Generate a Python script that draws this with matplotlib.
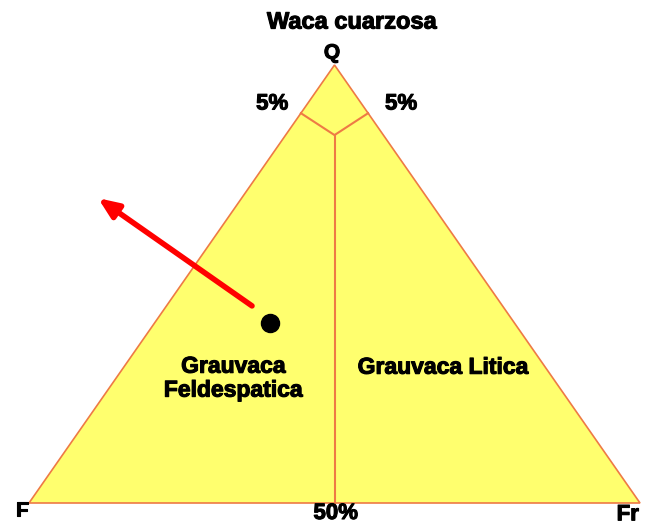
import matplotlib.pyplot as plt
import matplotlib.patheffects as pe
from matplotlib.patches import Polygon

plt.rcParams['font.family'] = ['Liberation Sans', 'DejaVu Sans']

# ternary data: (Q, F, Fr) fractions
vertices = {'Q': (1.0, 0.0, 0.0), 'F': (0.0, 1.0, 0.0), 'Fr': (0.0, 0.0, 1.0)}
q_limit = 0.89            # boundary of the quartz-wacke field (drawn as "5%")
node = (0.84, 0.08, 0.08)  # where the field boundaries meet
split_fr = 0.5            # F / Fr split at the base
sample = (0.41, 0.40, 0.19)
arrow_start = (0.45, 0.41, 0.14)
arrow_end = (0.696, 0.539, -0.235)


def tern(q, f, fr):
    # F at (0,0), Fr at (1,0), Q at (0.5,1)
    return fr + q / 2, q


fig = plt.figure(figsize=(6.52, 5.25), dpi=100)
ax = fig.add_axes([0, 0, 1, 1])
ax.set_xlim(-29 / 611, 623 / 611)
ax.set_ylim(-22 / 438, 503 / 438)
ax.axis('off')

edge = '#EE7A45'
tri = [tern(*vertices[k]) for k in ('F', 'Fr', 'Q')]
ax.add_patch(Polygon(tri, closed=True, facecolor='#FFFF6E', edgecolor=edge, lw=1.2))

# field boundaries
left = tern(q_limit, 1 - q_limit, 0)
right = tern(q_limit, 0, 1 - q_limit)
mid = tern(*node)
base = tern(0, 1 - split_fr, split_fr)
ax.plot([left[0], mid[0], right[0]], [left[1], mid[1], right[1]], color=edge, lw=1.5)
ax.plot([mid[0], base[0]], [mid[1], base[1]], color=edge, lw=1.5)

# sample point and arrow
ax.annotate('', xy=tern(*arrow_end), xytext=tern(*arrow_start),
            arrowprops=dict(arrowstyle='-|>,head_length=1.2,head_width=0.5',
                            color='#FF0000', lw=4, shrinkA=0, shrinkB=0))
sx, sy = tern(*sample)
ax.plot(sx, sy, 'o', color='black', markersize=13)

heavy = [pe.withStroke(linewidth=0.8, foreground='black')]
bold = dict(fontweight='bold', color='black', ha='center', va='center', path_effects=heavy)
ax.text(0.529, 1.098, 'Waca cuarzosa', fontsize=17, **bold)
ax.text(0.496, 1.027, 'Q', fontsize=15, **bold)
ax.text(0.398, 0.911, '5%', fontsize=16, **bold)
ax.text(0.609, 0.911, '5%', fontsize=16, **bold)
ax.text(-0.0115, -0.018, 'F', fontsize=15, **bold)
ax.text(0.98, -0.027, 'Fr', fontsize=16, **bold)
ax.text(0.502, -0.024, '50%', fontsize=16, **bold)
ax.text(0.334, 0.285, 'Grauvaca\nFeldespatica', fontsize=16.5, linespacing=1.05, **bold)
ax.text(0.677, 0.31, 'Grauvaca Litica', fontsize=16.5, **bold)

fig.savefig('out.png', dpi=100)
